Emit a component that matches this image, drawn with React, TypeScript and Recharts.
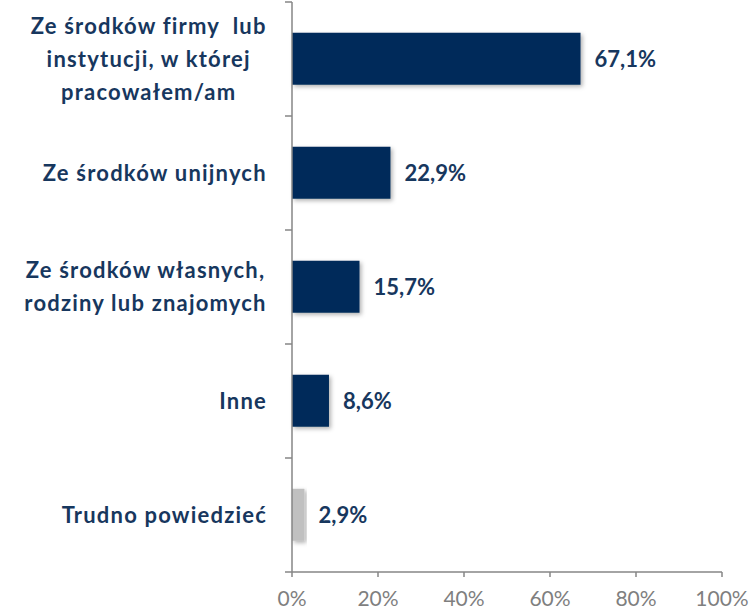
import { Bar, BarChart, Cell, LabelList, XAxis, YAxis } from "recharts";

const categories = [
  "Ze środków firmy  lub|instytucji, w której|pracowałem/am",
  "Ze środków unijnych",
  "Ze środków własnych,|rodziny lub znajomych",
  "Inne",
  "Trudno powiedzieć",
];
const values = [67.1, 22.9, 15.7, 8.6, 2.9];
const barColors = ["#002B5A", "#002B5A", "#002B5A", "#002B5A", "#C0C0C0"];
const xTicks = [0, 20, 40, 60, 80, 100];

const data = categories.map((name, i) => ({ name, value: values[i], fill: barColors[i] }));

const textColor = "#17375E";
const axisColor = "#868686";
const labelFont = "Lato, 'Open Sans', sans-serif";
const catSize = 22;
const catSpacing = 1.2;

let measureCtx: CanvasRenderingContext2D | null = null;
const measure = (s: string) => {
  if (!measureCtx) measureCtx = document.createElement("canvas").getContext("2d");
  if (!measureCtx) return s.length * 12;
  measureCtx.font = `bold ${catSize}px Lato`;
  return measureCtx.measureText(s).width + s.length * catSpacing;
};

const CategoryTick = (props: any) => {
  const { x, y, payload, index, visibleTicksCount } = props;
  const lines: string[] = String(payload.value).split("|");
  const widest = Math.max(...lines.map(measure));
  const cx = x - widest / 2;
  const lineH = 33;
  const half = payload.offset ?? 57;
  const axisX = x + 25;
  const isLast = index === (visibleTicksCount ?? 5) - 1;
  return (
    <g>
      <line x1={axisX - 7} x2={axisX} y1={y - half} y2={y - half} stroke={axisColor} strokeWidth={1.5} />
      {isLast && <line x1={axisX - 7} x2={axisX} y1={y + half} y2={y + half} stroke={axisColor} strokeWidth={1.5} />}
      <text
        x={cx}
        y={y}
        textAnchor="middle"
        fill={textColor}
        fontFamily={labelFont}
        fontWeight="bold"
        fontSize={catSize}
        letterSpacing={catSpacing}
        style={{ whiteSpace: "pre" }}
      >
        {lines.map((l, i) => (
          <tspan key={i} x={cx} y={y + (i - (lines.length - 1) / 2) * lineH} dy="0.36em">
            {l}
          </tspan>
        ))}
      </text>
    </g>
  );
};

const App = () => (
  <div style={{ width: 754, height: 611 }}>
    <style>{`body{margin:0}`}</style>
    <BarChart
      width={754}
      height={611}
      data={data}
      layout="vertical"
      margin={{ top: 2, right: 32, bottom: 0, left: 0 }}
      barCategoryGap="27%"
    >
      <defs>
        <filter id="barShadow" x="-10%" y="-20%" width="130%" height="150%">
          <feDropShadow dx="2" dy="2" stdDeviation="2" floodColor="#000" floodOpacity="0.3" />
        </filter>
      </defs>
      <XAxis
        type="number"
        domain={[0, 100]}
        ticks={xTicks}
        tickFormatter={(v: number) => `${v}%`}
        height={39}
        axisLine={{ stroke: axisColor, strokeWidth: 1.5 }}
        tickLine={{ stroke: axisColor, strokeWidth: 1.5 }}
        tickSize={5}
        tickMargin={14}
        tick={{ fill: "#7F7F7F", fontSize: 21, fontFamily: labelFont }}
        interval={0}
      />
      <YAxis
        type="category"
        dataKey="name"
        width={292}
        axisLine={{ stroke: axisColor, strokeWidth: 1.5 }}
        tickLine={false}
        tickSize={7}
        tickMargin={18}
        tick={<CategoryTick />}
        interval={0}
      />
      <Bar dataKey="value" isAnimationActive={false} filter="url(#barShadow)">
        {data.map((d, i) => (
          <Cell key={i} fill={d.fill} />
        ))}
        <LabelList
          dataKey="value"
          position="right"
          offset={14}
          formatter={(v: any) => `${Number(v).toFixed(1).replace(".", ",")}%`}
          fill={textColor}
          fontFamily={labelFont}
          fontWeight="bold"
          fontSize={22}
        />
      </Bar>
    </BarChart>
  </div>
);

export default App;
